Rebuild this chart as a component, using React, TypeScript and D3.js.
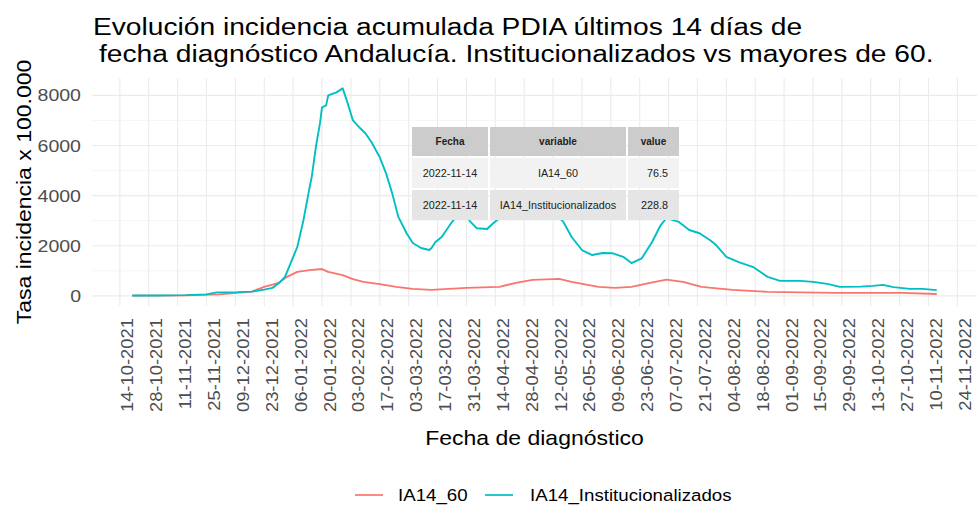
import React, { useRef, useEffect } from 'react';
import * as d3 from 'd3';

const W = 978;
const H = 511;

// IA14_Institucionalizados
const instDates = [
  '2021-10-20', '2021-11-01', '2021-11-15', '2021-11-25', '2021-11-30', '2021-12-10', '2021-12-17',
  '2021-12-23', '2021-12-27', '2021-12-30', '2022-01-02', '2022-01-04', '2022-01-08', '2022-01-11',
  '2022-01-14', '2022-01-15', '2022-01-17', '2022-01-19', '2022-01-20', '2022-01-22', '2022-01-23',
  '2022-01-27', '2022-01-30', '2022-02-01', '2022-02-04', '2022-02-07', '2022-02-10', '2022-02-13',
  '2022-02-17', '2022-02-20', '2022-02-23', '2022-02-26', '2022-03-02', '2022-03-05', '2022-03-09',
  '2022-03-13', '2022-03-14', '2022-03-16', '2022-03-19', '2022-03-24', '2022-03-29', '2022-04-02',
  '2022-04-05', '2022-04-10', '2022-04-13', '2022-04-16', '2022-04-23', '2022-05-01', '2022-05-08',
  '2022-05-17', '2022-05-21', '2022-05-26', '2022-05-31', '2022-06-05', '2022-06-10', '2022-06-15',
  '2022-06-19', '2022-06-24', '2022-06-29', '2022-07-03', '2022-07-06', '2022-07-12', '2022-07-17',
  '2022-07-22', '2022-07-27', '2022-07-30', '2022-08-04', '2022-08-10', '2022-08-17', '2022-08-24',
  '2022-08-30', '2022-09-09', '2022-09-15', '2022-09-22', '2022-09-28', '2022-10-08', '2022-10-14',
  '2022-10-19', '2022-10-24', '2022-11-01', '2022-11-07', '2022-11-14'
];
const instValues = [
  15, 15, 30, 60, 140, 150, 170,
  250, 320, 500, 750, 1150, 1950, 3020,
  4340, 4740, 5930, 6880, 7520, 7600, 8000,
  8120, 8280, 7800, 7000, 6730, 6490, 6130,
  5530, 4900, 4100, 3150, 2500, 2110, 1910,
  1830, 1900, 2150, 2350, 2950, 3400, 2950,
  2700, 2670, 2900, 3100, 3600, 3900, 3700,
  2950, 2350, 1830, 1630, 1710, 1700, 1560,
  1310, 1500, 2150, 2800, 3100, 2950, 2630,
  2500, 2230, 2030, 1560, 1350, 1150, 760,
  600, 600, 560, 480, 360, 370, 400,
  440, 350, 280, 280, 228.8
];

// IA14_60
const over60Dates = [
  '2021-10-20', '2021-11-15', '2021-12-01', '2021-12-17', '2021-12-23', '2021-12-30', '2022-01-03',
  '2022-01-08', '2022-01-14', '2022-01-20', '2022-01-23', '2022-01-30', '2022-02-04', '2022-02-09',
  '2022-02-17', '2022-02-25', '2022-03-05', '2022-03-14', '2022-03-31', '2022-04-16', '2022-04-24',
  '2022-05-02', '2022-05-15', '2022-05-21', '2022-06-03', '2022-06-11', '2022-06-19', '2022-06-28',
  '2022-07-06', '2022-07-14', '2022-07-23', '2022-08-07', '2022-08-24', '2022-09-26', '2022-10-28',
  '2022-11-14'
];
const over60Values = [
  10, 20, 60, 170, 360, 520, 760,
  960, 1030, 1070, 960, 830, 670, 560,
  470, 360, 280, 240, 320, 360, 520,
  640, 680, 560, 360, 320, 360, 520,
  650, 560, 360, 240, 160, 120, 120,
  76.5
];

const seriesNames = ['IA14_60', 'IA14_Institucionalizados'];
const seriesColors = ['#F8766D', '#00BFC4'];

const xTickLabels = [
  '14-10-2021', '28-10-2021', '11-11-2021', '25-11-2021', '09-12-2021', '23-12-2021',
  '06-01-2022', '20-01-2022', '03-02-2022', '17-02-2022', '03-03-2022', '17-03-2022',
  '31-03-2022', '14-04-2022', '28-04-2022', '12-05-2022', '26-05-2022', '09-06-2022',
  '23-06-2022', '07-07-2022', '21-07-2022', '04-08-2022', '18-08-2022', '01-09-2022',
  '15-09-2022', '29-09-2022', '13-10-2022', '27-10-2022', '10-11-2022', '24-11-2022'
];
const yTicks = [0, 2000, 4000, 6000, 8000];
const yMinorTicks = [1000, 3000, 5000, 7000];

const tableHeader = ['Fecha', 'variable', 'value'];
const tableRows = [
  ['2022-11-14', 'IA14_60', '76.5'],
  ['2022-11-14', 'IA14_Institucionalizados', '228.8']
];

const titleLines = [
  'Evolución incidencia acumulada PDIA últimos 14 días de',
  'fecha diagnóstico Andalucía. Institucionalizados vs mayores de 60.'
];

const FONT = '"Liberation Sans", Arial, Helvetica, sans-serif';
const STRETCH = 1.15;

const Chart = () => {
  const ref = useRef(null);

  useEffect(() => {
    const root = d3.select(ref.current);
    root.selectAll('*').remove();

    const panel = { left: 92, right: 977, top: 78, bottom: 306 };
    const parseIso = d3.timeParse('%Y-%m-%d');
    const parseTick = d3.timeParse('%d-%m-%Y');

    const inst = instDates.map((d, i) => ({ date: parseIso(d), value: instValues[i] }));
    const over60 = over60Dates.map((d, i) => ({ date: parseIso(d), value: over60Values[i] }));
    const all = [...inst, ...over60];

    // ggplot style 5% expansion
    const [d0, d1] = d3.extent(all, d => +d.date);
    const dspan = d1 - d0;
    const x = d3.scaleTime()
      .domain([new Date(d0 - dspan * 0.05), new Date(d1 + dspan * 0.05)])
      .range([panel.left, panel.right]);
    const [v0, v1] = d3.extent(all, d => d.value);
    const vspan = v1 - v0;
    const y = d3.scaleLinear()
      .domain([v0 - vspan * 0.05, v1 + vspan * 0.05])
      .range([panel.bottom, panel.top]);

    const addText = (g, str, tx, ty, opts) => {
      const { size, anchor = 'start', rotate = 0, color = '#000', weight = 'normal', k = STRETCH } = opts;
      return g.append('text')
        .attr('transform', `translate(${tx},${ty}) rotate(${rotate}) scale(${k},1)`)
        .attr('font-family', FONT)
        .attr('font-size', size)
        .attr('font-weight', weight)
        .attr('text-anchor', anchor)
        .attr('fill', color)
        .text(str);
    };

    // grid
    const grid = root.append('g');
    grid.selectAll('line.ymin').data(yMinorTicks).enter().append('line')
      .attr('x1', panel.left).attr('x2', panel.right)
      .attr('y1', d => y(d)).attr('y2', d => y(d))
      .attr('stroke', '#f0f0f0').attr('stroke-width', 0.7);
    grid.selectAll('line.ymaj').data(yTicks).enter().append('line')
      .attr('x1', panel.left).attr('x2', panel.right)
      .attr('y1', d => y(d)).attr('y2', d => y(d))
      .attr('stroke', '#ebebeb').attr('stroke-width', 1.1);
    const xTickDates = xTickLabels.map(parseTick);
    grid.selectAll('line.xmaj').data(xTickDates).enter().append('line')
      .attr('x1', d => x(d)).attr('x2', d => x(d))
      .attr('y1', panel.top).attr('y2', panel.bottom)
      .attr('stroke', '#ebebeb').attr('stroke-width', 1.1);

    // lines
    const line = d3.line().x(d => x(d.date)).y(d => y(d.value));
    [over60, inst].forEach((s, i) => {
      root.append('path')
        .datum(s)
        .attr('fill', 'none')
        .attr('stroke', seriesColors[i])
        .attr('stroke-width', 1.9)
        .attr('stroke-linejoin', 'round')
        .attr('d', line);
    });

    // axis labels
    const axes = root.append('g');
    yTicks.forEach(t => addText(axes, String(t), 81, y(t) + 6, { size: 17, anchor: 'end', color: '#4d4d4d' }));
    xTickLabels.forEach((lab, i) => {
      addText(axes, lab, x(xTickDates[i]) + 13.5, 318, { size: 16, anchor: 'end', rotate: -90, color: '#4d4d4d' });
    });
    addText(axes, 'Fecha de diagnóstico', (panel.left + panel.right) / 2, 445, { size: 20, anchor: 'middle' });
    addText(axes, 'Tasa incidencia x 100.000', 31, (panel.top + panel.bottom) / 2, { size: 20, anchor: 'middle', rotate: -90 });

    // title
    addText(root, titleLines[0], 93, 35, { size: 24.5 });
    addText(root, titleLines[1], 99, 62, { size: 24.5 });

    // table annotation
    const tbl = root.append('g');
    const cols = [[412, 488], [490, 626], [628, 679]];
    const rows = [[127, 156], [158, 188], [190, 220]];
    const fills = ['#cccccc', '#f2f2f2', '#e5e5e5'];
    [tableHeader, ...tableRows].forEach((r, ri) => {
      r.forEach((cell, ci) => {
        tbl.append('rect')
          .attr('x', cols[ci][0]).attr('y', rows[ri][0])
          .attr('width', cols[ci][1] - cols[ci][0]).attr('height', rows[ri][1] - rows[ri][0])
          .attr('fill', fills[ri]);
        const right = ci === 2 && ri > 0;
        const tx = right ? cols[ci][1] - 11 : (cols[ci][0] + cols[ci][1]) / 2;
        const ty = (rows[ri][0] + rows[ri][1]) / 2 + 3.8;
        addText(tbl, cell, tx, ty, {
          size: ri === 0 ? 10 : 10.8,
          anchor: right ? 'end' : 'middle',
          weight: ri === 0 ? 'bold' : 'normal',
          color: '#222',
          k: 1
        });
      });
    });

    // legend
    const leg = root.append('g');
    const legItems = [{ x0: 355, tx: 398 }, { x0: 485, tx: 530 }];
    legItems.forEach((it, i) => {
      leg.append('line')
        .attr('x1', it.x0).attr('x2', it.x0 + 28)
        .attr('y1', 495).attr('y2', 495)
        .attr('stroke', seriesColors[i]).attr('stroke-width', 1.7);
      addText(leg, seriesNames[i], it.tx, 501, { size: 17, k: 1.1 });
    });
  }, []);

  return (
    <svg width={W} height={H} style={{ position: 'absolute', left: 0, top: 0, background: '#fff' }}>
      <g ref={ref} />
    </svg>
  );
};

export default function App() {
  return <Chart />;
}
